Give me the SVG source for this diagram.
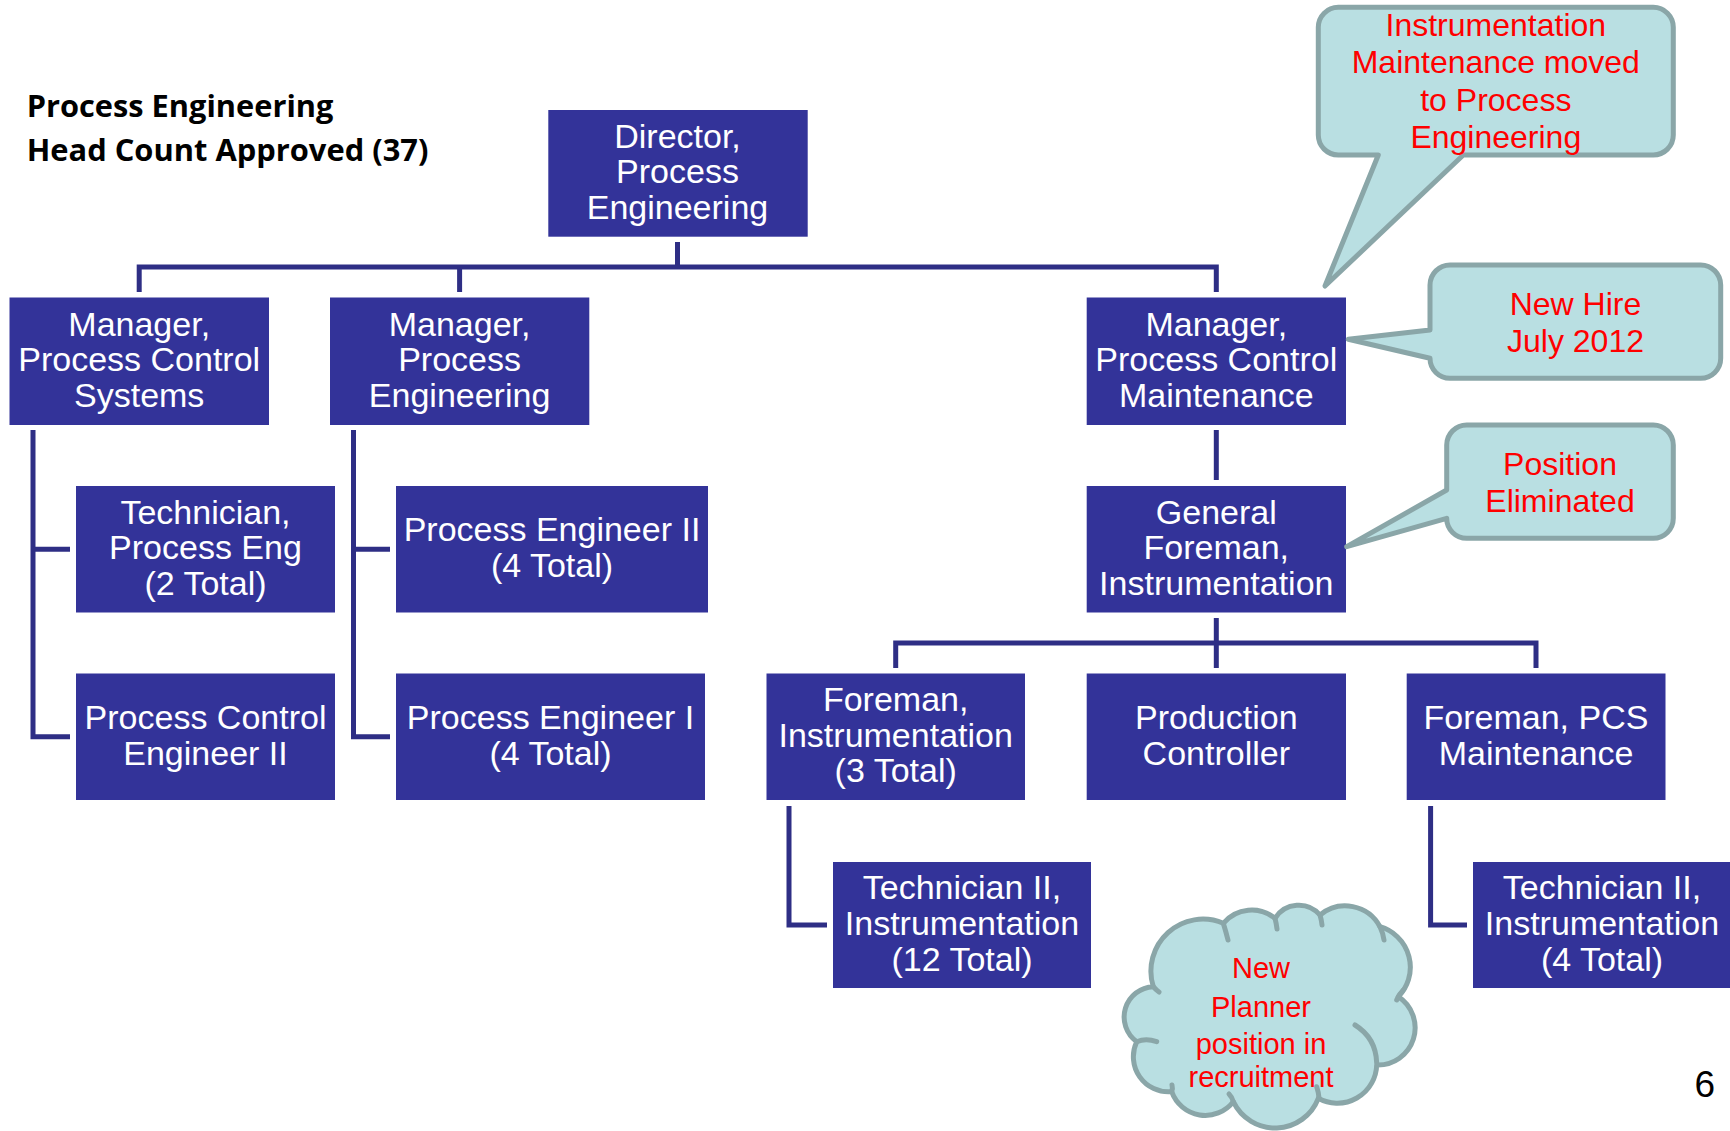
<svg xmlns="http://www.w3.org/2000/svg" width="1730" height="1131" viewBox="0 0 1730 1131">
  <style>
    .box { fill: #333399; }
    .bt { font-family: "Liberation Sans", Arial, sans-serif; font-size: 34px; fill: #ffffff; text-anchor: middle; }
    .conn { fill: none; stroke: #2e2e85; stroke-width: 5; stroke-linejoin: miter; stroke-linecap: butt; }
    .call { fill: #b9dfe2; stroke: #8aa6a8; stroke-width: 5; stroke-linejoin: round; }
    .tick { fill: none; stroke: #8aa6a8; stroke-width: 5; stroke-linecap: round; }
    .ct { font-family: "Liberation Sans", Arial, sans-serif; font-size: 32px; fill: #ff0000; text-anchor: middle; }
    .cloudt { font-family: "Liberation Sans", Arial, sans-serif; font-size: 29px; fill: #ff0000; text-anchor: middle; }
    .title { font-family: "Open Sans", Lato, sans-serif; font-weight: bold; font-size: 30px; fill: #000000; }
  </style>
  <rect width="1730" height="1131" fill="#ffffff"/>

  <!-- heading -->
  <g id="heading">
    <text class="title" x="26.7" y="117" textLength="306.7" lengthAdjust="spacingAndGlyphs">Process Engineering</text>
    <text class="title" x="26.7" y="161" textLength="401.7" lengthAdjust="spacingAndGlyphs">Head Count Approved (37)</text>
  </g>

  <!-- reporting lines -->
  <g id="connectors">
    <path class="conn" d="M677.5 242 V267"/>
    <path class="conn" d="M139.2 292 V267 H1216.3 V292"/>
    <path class="conn" d="M459.6 267 V292"/>
    <path class="conn" d="M1216.3 430 V480"/>
    <path class="conn" d="M1216.3 618 V643"/>
    <path class="conn" d="M895.7 668 V643 H1536 V668"/>
    <path class="conn" d="M1216.3 643 V668"/>
    <path class="conn" d="M33 430 V736.7 H70"/>
    <path class="conn" d="M33 549.2 H70"/>
    <path class="conn" d="M353.5 430 V736.7 H390"/>
    <path class="conn" d="M353.5 549.2 H390"/>
    <path class="conn" d="M789 806 V925 H827"/>
    <path class="conn" d="M1430.6 806 V925 H1467"/>
  </g>

  <!-- positions -->
  <g id="director">
    <rect class="box" x="548.3" y="110" width="259.4" height="126.7"/>
    <text class="bt"><tspan x="677.5" y="147.6">Director,</tspan><tspan x="677.5" y="183.3">Process</tspan><tspan x="677.5" y="219">Engineering</tspan></text>
  </g>
  <g id="mgr-pcs">
    <rect class="box" x="9.5" y="297.5" width="259.5" height="127.5"/>
    <text class="bt"><tspan x="139.2" y="335.5">Manager,</tspan><tspan x="139.2" y="371.2">Process Control</tspan><tspan x="139.2" y="406.9">Systems</tspan></text>
  </g>
  <g id="mgr-pe">
    <rect class="box" x="330" y="297.5" width="259.3" height="127.5"/>
    <text class="bt"><tspan x="459.6" y="335.5">Manager,</tspan><tspan x="459.6" y="371.2">Process</tspan><tspan x="459.6" y="406.9">Engineering</tspan></text>
  </g>
  <g id="mgr-pcm">
    <rect class="box" x="1086.7" y="297.5" width="259.3" height="127.5"/>
    <text class="bt"><tspan x="1216.3" y="335.5">Manager,</tspan><tspan x="1216.3" y="371.2">Process Control</tspan><tspan x="1216.3" y="406.9">Maintenance</tspan></text>
  </g>
  <g id="tech-pe">
    <rect class="box" x="76" y="486" width="259" height="126.5"/>
    <text class="bt"><tspan x="205.5" y="523.5">Technician,</tspan><tspan x="205.5" y="559.2">Process Eng</tspan><tspan x="205.5" y="594.9">(2 Total)</tspan></text>
  </g>
  <g id="pce2">
    <rect class="box" x="76" y="673.5" width="259" height="126.5"/>
    <text class="bt"><tspan x="205.5" y="728.9">Process Control</tspan><tspan x="205.5" y="764.6">Engineer II</tspan></text>
  </g>
  <g id="pe2">
    <rect class="box" x="396" y="486" width="312" height="126.5"/>
    <text class="bt"><tspan x="552" y="541.4">Process Engineer II</tspan><tspan x="552" y="577.1">(4 Total)</tspan></text>
  </g>
  <g id="pe1">
    <rect class="box" x="396" y="673.5" width="309" height="126.5"/>
    <text class="bt"><tspan x="550.5" y="728.9">Process Engineer I</tspan><tspan x="550.5" y="764.6">(4 Total)</tspan></text>
  </g>
  <g id="gen-foreman">
    <rect class="box" x="1086.7" y="486" width="259.3" height="126.5"/>
    <text class="bt"><tspan x="1216.3" y="523.5">General</tspan><tspan x="1216.3" y="559.2">Foreman,</tspan><tspan x="1216.3" y="594.9">Instrumentation</tspan></text>
  </g>
  <g id="foreman-instr">
    <rect class="box" x="766.5" y="673.5" width="258.5" height="126.5"/>
    <text class="bt"><tspan x="895.7" y="711">Foreman,</tspan><tspan x="895.7" y="746.7">Instrumentation</tspan><tspan x="895.7" y="782.4">(3 Total)</tspan></text>
  </g>
  <g id="prod-controller">
    <rect class="box" x="1086.7" y="673.5" width="259.3" height="126.5"/>
    <text class="bt"><tspan x="1216.3" y="728.9">Production</tspan><tspan x="1216.3" y="764.6">Controller</tspan></text>
  </g>
  <g id="foreman-pcs">
    <rect class="box" x="1406.7" y="673.5" width="258.8" height="126.5"/>
    <text class="bt"><tspan x="1536" y="728.9">Foreman, PCS</tspan><tspan x="1536" y="764.6">Maintenance</tspan></text>
  </g>
  <g id="tech2-instr-12">
    <rect class="box" x="833" y="862" width="258" height="126"/>
    <text class="bt"><tspan x="962" y="899.3">Technician II,</tspan><tspan x="962" y="935">Instrumentation</tspan><tspan x="962" y="970.7">(12 Total)</tspan></text>
  </g>
  <g id="tech2-instr-4">
    <rect class="box" x="1473" y="862" width="259" height="126"/>
    <text class="bt"><tspan x="1602" y="899.3">Technician II,</tspan><tspan x="1602" y="935">Instrumentation</tspan><tspan x="1602" y="970.7">(4 Total)</tspan></text>
  </g>

  <!-- callouts -->
  <g id="note-moved">
    <path class="call" d="M1338.3 7.3 H1653.3 A20 20 0 0 1 1673.3 27.3 V135 A20 20 0 0 1 1653.3 155 H1463.3 L1325 286 L1378.3 155 H1338.3 A20 20 0 0 1 1318.3 135 V27.3 A20 20 0 0 1 1338.3 7.3 Z"/>
    <text class="ct"><tspan x="1495.8" y="36">Instrumentation</tspan><tspan x="1495.8" y="73.3">Maintenance moved</tspan><tspan x="1495.8" y="111">to Process</tspan><tspan x="1495.8" y="148.3">Engineering</tspan></text>
  </g>
  <g id="note-new-hire">
    <path class="call" d="M1450 265 H1700.7 A20 20 0 0 1 1720.7 285 V358.3 A20 20 0 0 1 1700.7 378.3 H1450 A20 20 0 0 1 1430 358.3 L1348.3 339.3 L1430 330 V285 A20 20 0 0 1 1450 265 Z"/>
    <text class="ct"><tspan x="1575.5" y="315">New Hire</tspan><tspan x="1575.5" y="351.7">July 2012</tspan></text>
  </g>
  <g id="note-eliminated">
    <path class="call" d="M1466.7 425 H1653.3 A20 20 0 0 1 1673.3 445 V518.3 A20 20 0 0 1 1653.3 538.3 H1466.7 A20 20 0 0 1 1446.7 518.3 L1346.7 546.7 L1446.7 490 V445 A20 20 0 0 1 1466.7 425 Z"/>
    <text class="ct"><tspan x="1560" y="475">Position</tspan><tspan x="1560" y="511.7">Eliminated</tspan></text>
  </g>
  <g id="note-planner">
    <path class="call" d="M1153.3 986.7 A52 52 0 0 1 1223.3 923.3 A37 37 0 0 1 1275 918.3 A28 28 0 0 1 1320 915 A39.4 39.4 0 0 1 1380 926.7 A42.2 42.2 0 0 1 1398.3 996.7 A37.2 37.2 0 0 1 1376.7 1065 A39.4 39.4 0 0 1 1318.3 1098.3 A46.3 46.3 0 0 1 1233.3 1101.7 A35.6 35.6 0 0 1 1171.7 1091.7 A35.2 35.2 0 0 1 1136.7 1041.7 A30.4 30.4 0 0 1 1153.3 986.7 Z"/>
    <path class="tick" d="M1223.3 923.3 Q1226 932 1228 940"/>
    <path class="tick" d="M1275 918.3 Q1276.5 924 1277 929"/>
    <path class="tick" d="M1320 915 Q1321.5 920 1322 925"/>
    <path class="tick" d="M1380 926.7 Q1383 933 1384 940"/>
    <path class="tick" d="M1396.7 1000 Q1399 994 1403.3 990"/>
    <path class="tick" d="M1355 1025 Q1376 1038 1376.7 1063"/>
    <path class="tick" d="M1319 1098 Q1318.5 1092 1316.7 1086.7"/>
    <path class="tick" d="M1233.3 1101.7 Q1232 1097 1229 1094"/>
    <path class="tick" d="M1171.7 1091.7 Q1173 1089 1172 1085"/>
    <path class="tick" d="M1136.7 1041.7 Q1146 1038 1156.7 1041.7"/>
    <path class="tick" d="M1153.3 986.7 Q1156 990 1159 992"/>
    <text class="cloudt"><tspan x="1261" y="978">New</tspan><tspan x="1261" y="1017">Planner</tspan><tspan x="1261" y="1054">position in</tspan><tspan x="1261" y="1087">recruitment</tspan></text>
  </g>

  <!-- page number -->
  <text x="1694.5" y="1097" font-family="Liberation Sans, Arial, sans-serif" font-size="37" fill="#000000">6</text>
</svg>
